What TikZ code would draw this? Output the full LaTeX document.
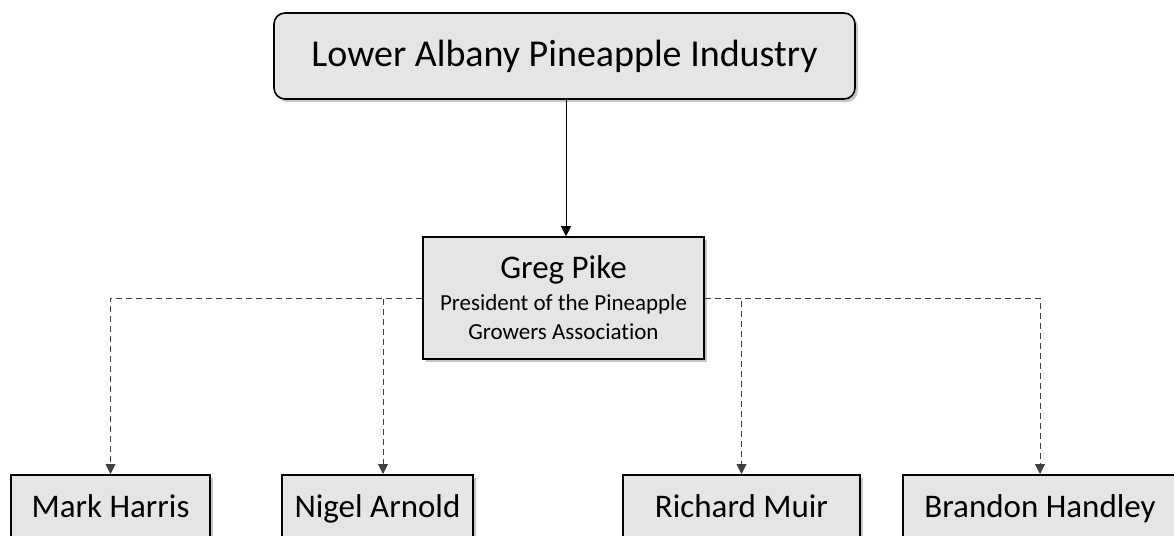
\documentclass[tikz,border=0pt]{standalone}
\usepackage{fontspec}
\setmainfont{Carlito}[Ligatures=NoCommon]
\usetikzlibrary{arrows.meta,shadows}

\tikzset{
    box/.style={draw=black, line width=1.6pt, fill=black!10,
        drop shadow={shadow xshift=3pt, shadow yshift=-3pt, fill=black!45, opacity=0.5},
        inner sep=0pt, align=center},
    link/.style={line width=0.9pt, -{Triangle[width=10pt,length=10pt]}},
    dlink/.style={link, draw=black!75, dash pattern=on 6pt off 4pt}
}

\begin{document}
\begin{tikzpicture}[x=1pt, y=-1pt]

\useasboundingbox (0,0) rectangle (1174,535);

\node[box, rounded corners=11pt, minimum width=581pt, minimum height=86pt,
    font=\fontsize{38}{44}\selectfont] (industry) at (564.5, 56) {Lower Albany Pineapple Industry};
\node[box, minimum width=281pt, minimum height=122pt,
    font=\fontsize{23}{29}\selectfont] (greg) at (563.5, 298)
    {{\fontsize{33}{30}\selectfont Greg Pike}\\[3pt]
     President of the Pineapple\\Growers Association};

% growers in the association
\foreach \x/\w/\name/\who in {110.5/199/mark/Mark Harris, 377.5/191/nigel/Nigel Arnold,
        741.5/237/richard/Richard Muir, 1040/274/brandon/Brandon Handley}
    \node[box, anchor=north, minimum width=\w pt, minimum height=70pt,
        text height=24pt, text depth=8pt,
        font=\fontsize{33}{38}\selectfont] (\name) at (\x, 474) {\who};

\draw[link] (industry.south -| 566,0) -- (greg.north -| 566,0);
\draw[dlink] (greg.west) -| (mark.north);
\draw[dlink] (greg.west) -| ([xshift=5.5pt]nigel.north);
\draw[dlink] (greg.east) -| (richard.north);
\draw[dlink] (greg.east) -| (brandon.north);

\end{tikzpicture}
\end{document}
